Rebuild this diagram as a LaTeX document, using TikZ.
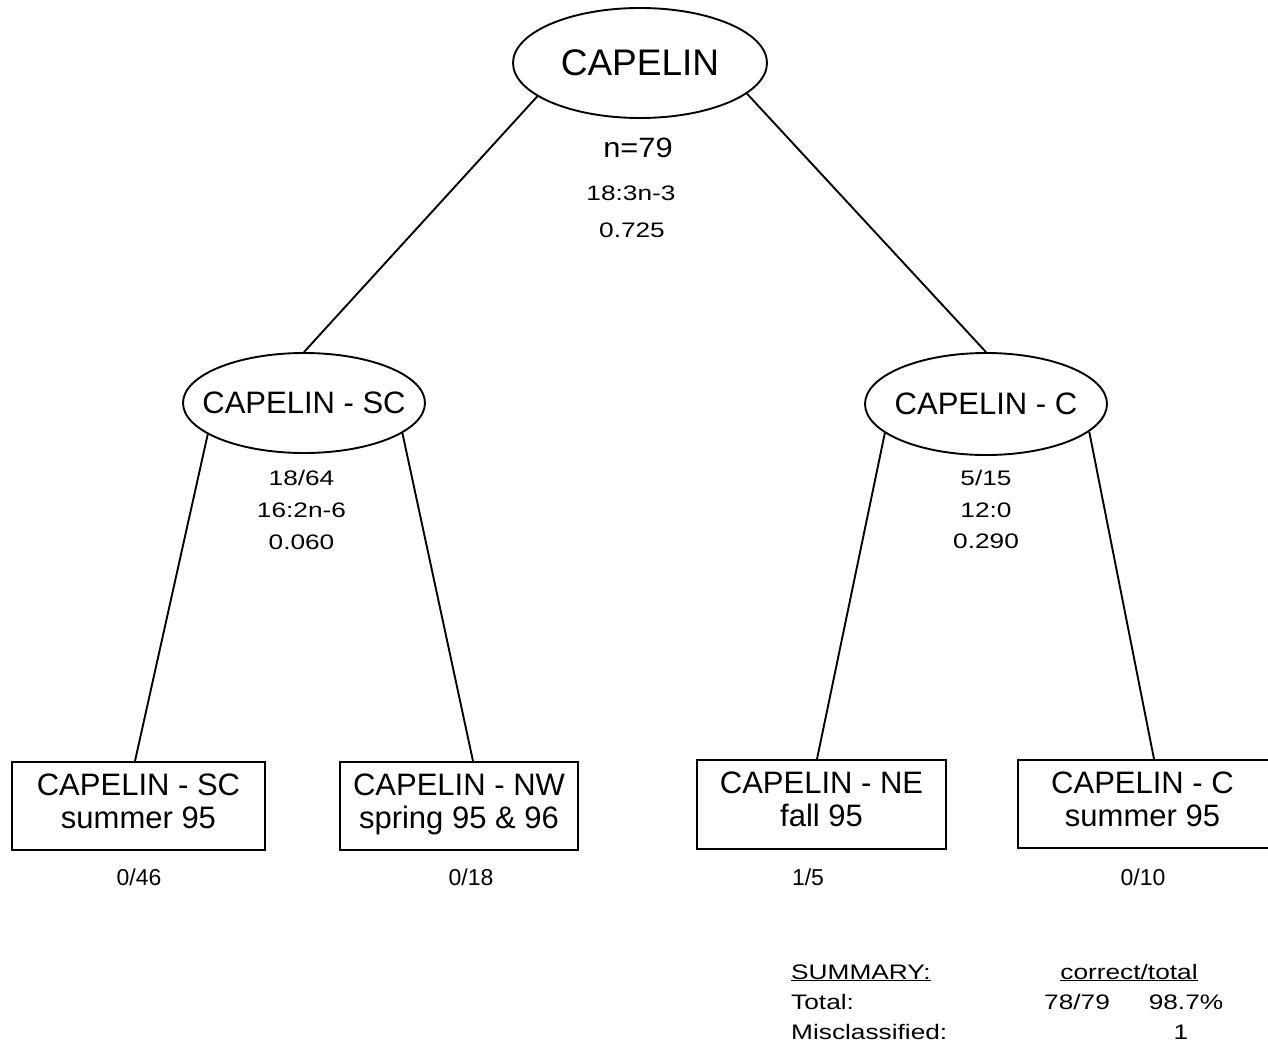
\documentclass[tikz,border=0pt]{standalone}
\usepackage{fontspec}
\setmainfont{Liberation Sans}
\newfontfamily\statfont[FakeStretch=1.25]{Liberation Sans}
\newfontfamily\nfont[FakeStretch=1.1]{Liberation Sans}
\usetikzlibrary{shapes.geometric}
\newcommand{\twolines}[2]{\begin{tabular}[t]{@{}c@{}}#1\\#2\end{tabular}}
\begin{document}
\begin{tikzpicture}[x=1pt,y=-1pt,
  ell/.style={draw, ellipse, line width=1.9pt, inner sep=0pt},
  leaf/.style={draw, rectangle, line width=1.9pt, inner sep=0pt},
  leaftext/.style={inner sep=0pt, anchor=base, font=\fontsize{31}{33}\selectfont},
  conn/.style={line width=1.9pt},
  stat/.style={inner sep=0pt, anchor=base, font=\statfont\fontsize{21}{24}\selectfont},
  cnt/.style={inner sep=0pt, anchor=base, font=\fontsize{23}{26}\selectfont},
  summ/.style={inner sep=0pt, anchor=base west, font=\statfont\fontsize{21}{24}\selectfont},
  summc/.style={inner sep=0pt, anchor=base, font=\statfont\fontsize{21}{24}\selectfont}]
\useasboundingbox[fill=white] (0,0) rectangle (1268,1047);

% ellipses
\node[ell, minimum width=254pt, minimum height=110pt, font=\fontsize{37}{40}\selectfont]
  (top) at (640,63) {\makebox[0pt]{CAPELIN}};
\node[ell, minimum width=242pt, minimum height=100pt, font=\fontsize{31}{34}\selectfont]
  (sc) at (304,403) {\makebox[0pt]{CAPELIN - SC}};
\node[ell, minimum width=242pt, minimum height=102pt, font=\fontsize{31}{34}\selectfont]
  (c) at (986,404) {\makebox[0pt]{CAPELIN - C}};

% leaves
\node[leaf, minimum width=253pt, minimum height=88pt] (b1) at (138.5,806) {};
\node[leaf, minimum width=238pt, minimum height=88pt] (b2) at (459,806) {};
\node[leaf, minimum width=249pt, minimum height=89pt] (b3) at (821.5,804.5) {};
\node[leaf, minimum width=257pt, minimum height=88pt] (b4) at (1146.5,804) {};
\node[leaftext] (b1t) at ([yshift=11pt]b1.center) {\twolines{CAPELIN - SC}{summer 95}};
\node[leaftext] (b2t) at ([yshift=11pt]b2.center) {\twolines{CAPELIN - NW}{spring 95 \& 96}};
\node[leaftext] (b3t) at ([yshift=11pt]b3.center) {\twolines{CAPELIN - NE}{fall 95}};
\node[leaftext] (b4t) at ([yshift=11pt,xshift=-4pt]b4.center) {\twolines{CAPELIN - C}{summer 95}};

% connectors
\draw[conn] (top.-162.7) -- (sc.north);
\draw[conn] (top.-16.9) -- (c.north);
\draw[conn] (sc.-162.9) -- ([xshift=-3.5pt]b1.north);
\draw[conn] (sc.-17.3) -- ([xshift=14pt]b2.north);
\draw[conn] (c.-164.3) -- ([xshift=-4.5pt]b3.north);
\draw[conn] (c.-15.3) -- ([xshift=7.5pt]b4.north);

% statistics
\node[inner sep=0pt, anchor=base, font=\nfont\fontsize{28}{30}\selectfont] (n) at (638,157) {n=79};
\node[stat] (t2) at (631,200) {18:3n-3};
\node[stat] (t3) at (632,237) {0.725};
\node[stat] (l1) at (301.5,485) {18/64};
\node[stat] (l2) at (301.5,517) {16:2n-6};
\node[stat] (l3) at (301.5,549) {0.060};
\node[stat] (r1) at (986,485) {5/15};
\node[stat] (r2) at (986,517) {12:0};
\node[stat] (r3) at (986,548) {0.290};

% counts
\node[cnt] (c1) at (139,885) {0/46};
\node[cnt] (c2) at (471,885) {0/18};
\node[cnt] (c3) at (808,885) {1/5};
\node[cnt] (c4) at (1143,885) {0/10};

% summary
\node[summ] (s1) at (791,979) {\underline{SUMMARY:}};
\node[summc] (s2) at (1129,979) {\underline{correct/total}};
\node[summ] (s3) at (791,1009) {Total:};
\node[summc] (s4) at (1077,1009) {78/79};
\node[summc] (s5) at (1186,1009) {98.7\%};
\node[summ] (s6) at (791,1039) {Misclassified:};
\node[summc] (s7) at (1181,1039) {1};
\end{tikzpicture}
\end{document}
